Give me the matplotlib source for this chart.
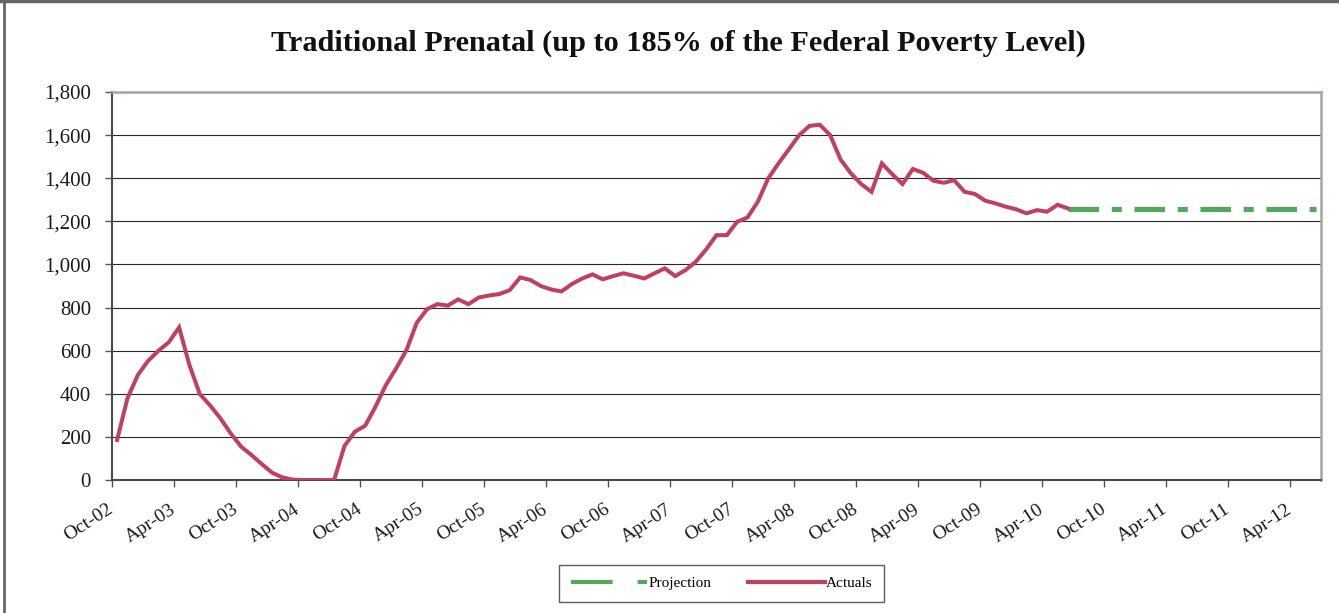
import numpy as np
import pandas as pd
import matplotlib
matplotlib.use('Agg')
import matplotlib.pyplot as plt
from matplotlib.lines import Line2D
from matplotlib.ticker import FuncFormatter

plt.rcParams['font.family'] = ['Liberation Serif', 'DejaVu Serif']

# monthly categories Oct-02 .. Jun-12
months = pd.date_range('2002-10-01', periods=117, freq='MS')
month_labels = [m.strftime('%b-%y') for m in months]

# actual caseload Oct-02 .. Jun-10
actuals = [186, 379, 487, 553, 600, 639, 708, 533, 399, 346,
           286, 216, 155, 116, 74, 34, 12, 2, 0, 0,
           0, 0, 158, 224, 252, 340, 440, 518, 603, 730,
           793, 816, 809, 838, 816, 847, 856, 863, 881, 940,
           928, 900, 884, 875, 909, 935, 954, 931, 946, 959,
           948, 935, 959, 982, 946, 974, 1013, 1070, 1136, 1136,
           1198, 1218, 1291, 1399, 1469, 1534, 1600, 1643, 1648, 1600,
           1487, 1423, 1373, 1337, 1469, 1419, 1373, 1443, 1425, 1388,
           1379, 1391, 1337, 1327, 1296, 1283, 1268, 1256, 1237, 1252,
           1245, 1277, 1260]
# projection Jun-10 .. Jun-12 (flat)
proj_start = 92
projection = [1259] * 25

red = '#C0415F'
green = '#55A65E'

fig = plt.figure(figsize=(13.39, 6.13), dpi=100)
ax = fig.add_axes([0.0836, 0.2169, 0.9030, 0.6330])

x_act = np.arange(len(actuals)) + 0.5
x_proj = np.arange(proj_start, proj_start + len(projection)) + 0.5

ax.plot(x_proj, projection, color=green, lw=3.8, dashes=(5.8, 2.4, 1.9, 2.4),
        solid_capstyle='butt', dash_capstyle='butt', zorder=3)
ax.plot(x_act, actuals, color=red, lw=2.9, solid_joinstyle='miter', zorder=4)

ax.set_xlim(0, len(months))
ax.set_ylim(0, 1800)
ax.set_yticks(np.arange(0, 1801, 200))
ax.yaxis.set_major_formatter(FuncFormatter(lambda v, p: f'{int(v):,}'))
tick_pos = np.arange(0, len(months), 6)
ax.set_xticks(tick_pos)
ax.set_xticklabels([month_labels[i] for i in tick_pos], rotation=33,
                   ha='right', va='center', rotation_mode='anchor')

ax.grid(axis='y', color='#262626', lw=0.8)
ax.set_axisbelow(True)
ax.tick_params(axis='both', direction='out', length=5, width=1, color='#555555',
               labelcolor='#1a1a1a')
ax.tick_params(axis='y', pad=10, labelsize=15)
ax.tick_params(axis='x', pad=15, labelsize=14)

for s in ['left', 'bottom']:
    ax.spines[s].set_color('#4a4a4a')
    ax.spines[s].set_linewidth(1.5)
for s in ['top', 'right']:
    ax.spines[s].set_color('#a8a3a0')
    ax.spines[s].set_linewidth(1.8)

fig.text(0.507, 0.93, 'Traditional Prenatal (up to 185% of the Federal Poverty Level)',
         ha='center', va='center', fontsize=21.8, fontweight='bold', color='#111111')

h_proj = Line2D([], [], color=green, lw=3, dashes=(10, 6, 3, 2))
h_act = Line2D([], [], color=red, lw=3)
leg = fig.legend([h_proj, h_act], ['Projection', 'Actuals'], loc='center',
                 bbox_to_anchor=(0.539, 0.048), ncol=2, fontsize=11,
                 handlelength=5, handletextpad=0.1, columnspacing=2.4,
                 frameon=True, fancybox=False, borderpad=0.75, borderaxespad=0)
leg.get_frame().set_edgecolor('#333333')
leg.get_frame().set_linewidth(1.0)

# outer chart border (left and top visible)
fig.add_artist(Line2D([0.003, 0.003], [0, 1], transform=fig.transFigure,
                      color='#666666', lw=2))
fig.add_artist(Line2D([0, 1], [0.998, 0.998], transform=fig.transFigure,
                      color='#666666', lw=2.5))

fig.savefig('out.png', dpi=100)
